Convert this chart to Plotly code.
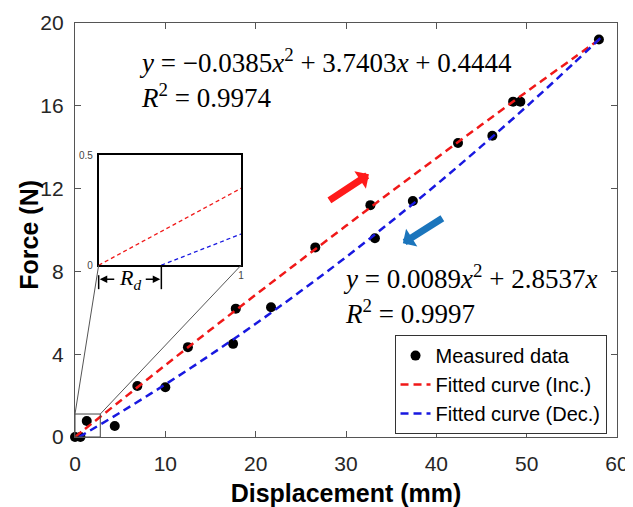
import plotly.graph_objects as go

# ---------------- data ----------------
meas_x = [0, 0.6, 1.3, 4.4, 6.9, 10.0, 12.5, 17.5, 17.8, 21.7, 26.6, 32.7, 33.2, 37.4, 42.4, 46.2, 48.5, 49.3, 58.0]
meas_y = [0, 0, 0.77, 0.53, 2.46, 2.4, 4.34, 4.5, 6.2, 6.27, 9.16, 11.2, 9.6, 11.4, 14.2, 14.55, 16.2, 16.2, 19.2]

inc_x = [0, 1, 5, 10, 15, 20, 25, 30, 35, 40, 45, 50, 55, 58.2]
inc_y = [0, 0.35, 1.74, 3.47, 5.18, 6.87, 8.54, 10.20, 11.85, 13.47, 15.08, 16.68, 18.25, 19.25]

dec_x = [0.44, 1, 5, 10, 15, 20, 25, 30, 35, 40, 45, 50, 55, 58.2]
dec_y = [0, 0.142, 1.18, 2.54, 3.97, 5.47, 7.05, 8.69, 10.41, 12.19, 14.05, 15.97, 17.97, 19.29]

x_ticks = [0, 10, 20, 30, 40, 50, 60]
y_ticks = [0, 4, 8, 12, 16, 20]

RED = "#f01818"
BLUE = "#1818e0"
ARROW_RED = "#ff1a1a"
ARROW_BLUE = "#1b75bc"
AXC = "#555555"
TXT = "#262626"

# ---------------- geometry (screen pixels of the 633x507 window) ----------------
SCR_W, SCR_H = 633, 507
OFF = 8                      # the page body has an 8px margin
W, H = SCR_W - OFF, SCR_H - OFF
AX_L, AX_R, AX_T, AX_B = 74.6, 617.5, 22.5, 437.0   # plot area in screen pixels
PW, PH = AX_R - AX_L, AX_B - AX_T


def px(xp):
    return (xp - AX_L) / PW


def py(yp):
    return (AX_B - yp) / PH


inset_x = [px(98.3), px(241)]
inset_y = [py(265), py(155)]

fig = go.Figure()

fig.add_trace(go.Scatter(x=meas_x, y=meas_y, mode="markers", name="Measured data",
                         marker=dict(color="black", size=10), cliponaxis=False))
fig.add_trace(go.Scatter(x=inc_x, y=inc_y, mode="lines", name="Fitted curve (Inc.)",
                         line=dict(color=RED, width=2.5, dash="8px,5px", shape="spline")))
fig.add_trace(go.Scatter(x=dec_x, y=dec_y, mode="lines", name="Fitted curve (Dec.)",
                         line=dict(color=BLUE, width=2.5, dash="8px,5px", shape="spline")))

# inset (zoom near the origin)
fig.add_trace(go.Scatter(x=inc_x, y=inc_y, mode="lines", xaxis="x2", yaxis="y2", showlegend=False,
                         line=dict(color=RED, width=1.3, dash="4px,3px")))
fig.add_trace(go.Scatter(x=dec_x, y=dec_y, mode="lines", xaxis="x2", yaxis="y2", showlegend=False,
                         line=dict(color=BLUE, width=1.3, dash="4px,3px")))

shapes = []
# small zoom box near the origin
zx0, zx1, zy0, zy1 = 0, 2.8, 0, 1.11
shapes.append(dict(type="rect", xref="x", yref="y", x0=zx0, x1=zx1, y0=zy0, y1=zy1,
                   line=dict(color="#444", width=1)))
# connector lines
for (sx, ix) in [(zx0, inset_x[0]), (zx1, inset_x[1])]:
    shapes.append(dict(type="line", xref="paper", yref="paper",
                       x0=sx / 60, y0=zy1 / 20, x1=ix, y1=inset_y[0],
                       line=dict(color="#555", width=1)))
# R_d bars
rd_x1 = inset_x[0] + 0.44 * (inset_x[1] - inset_x[0])
shapes.append(dict(type="line", xref="paper", yref="paper", x0=inset_x[0], x1=inset_x[0],
                   y0=py(275), y1=py(289), line=dict(color="black", width=1.5)))
shapes.append(dict(type="line", xref="paper", yref="paper", x0=rd_x1, x1=rd_x1,
                   y0=py(266), y1=py(289), line=dict(color="black", width=1.5)))

annotations = []
EQF = dict(family="Liberation Serif", size=27, color="black")
annotations += [
    dict(xref="paper", yref="paper", x=px(137), y=py(78), xanchor="left", yanchor="middle", align="left",
         text="<i>y</i> = −0.0385<i>x</i><sup>2</sup> + 3.7403<i>x</i> + 0.4444<br><i>R</i><sup>2</sup> = 0.9974",
         showarrow=False, font=EQF),
    dict(xref="paper", yref="paper", x=px(341), y=py(294), xanchor="left", yanchor="middle", align="left",
         text="<i>y</i> = 0.0089<i>x</i><sup>2</sup> + 2.8537<i>x</i><br><i>R</i><sup>2</sup> = 0.9997",
         showarrow=False, font=EQF),
]
# direction arrows
annotations += [
    dict(xref="paper", yref="paper", x=px(369), y=py(174), ax=328 - 369, ay=201 - 174,
         showarrow=True, arrowhead=1, arrowsize=0.5, arrowwidth=7, arrowcolor=ARROW_RED, text=""),
    dict(xref="paper", yref="paper", x=px(403), y=py(243), ax=444 - 403, ay=217 - 243,
         showarrow=True, arrowhead=1, arrowsize=0.5, arrowwidth=7, arrowcolor=ARROW_BLUE, text=""),
]
# R_d label with arrows
rd_y = py(279)
annotations += [
    dict(xref="paper", yref="paper", x=(inset_x[0] + rd_x1) / 2, y=rd_y, text="<i>R</i><sub><i>d</i></sub>",
         showarrow=False, font=dict(family="Liberation Serif", size=22, color="black"),
         xanchor="center", yanchor="middle"),
    dict(xref="paper", yref="paper", x=inset_x[0] + 0.002, y=rd_y, ax=16, ay=0, text="",
         showarrow=True, arrowhead=2, arrowsize=1, arrowwidth=1.5, arrowcolor="black"),
    dict(xref="paper", yref="paper", x=rd_x1 - 0.002, y=rd_y, ax=-16, ay=0, text="",
         showarrow=True, arrowhead=2, arrowsize=1, arrowwidth=1.5, arrowcolor="black"),
]
# y-axis title
annotations.append(dict(xref="paper", yref="paper", x=px(29), y=py(234), text="<b>Force (N)</b>",
                        textangle=-90, showarrow=False, xanchor="center", yanchor="middle",
                        font=dict(family="Liberation Sans", size=25, color="black")))

fig.update_layout(
    width=W, height=H,
    margin=dict(l=AX_L - OFF, r=SCR_W - AX_R, t=AX_T - OFF, b=SCR_H - AX_B),
    paper_bgcolor="white", plot_bgcolor="white",
    font=dict(family="Liberation Sans", color=TXT),
    shapes=shapes, annotations=annotations,
    xaxis=dict(range=[0, 60], tickvals=x_ticks, ticks="inside", ticklen=6, tickcolor=AXC,
               showline=True, linecolor=AXC, linewidth=1.3, mirror="ticks", automargin=False,
               showgrid=False, zeroline=False, tickfont=dict(size=21, color=TXT),
               ticklabelstandoff=8,
               title=dict(text="<b>Displacement (mm)</b>", font=dict(size=25, color="black"), standoff=12)),
    yaxis=dict(range=[0, 20], tickvals=y_ticks, ticks="inside", ticklen=6, tickcolor=AXC,
               showline=True, linecolor=AXC, linewidth=1.3, mirror="ticks", automargin=False,
               showgrid=False, zeroline=False, tickfont=dict(size=21, color=TXT),
               ticklabelstandoff=6),
    xaxis2=dict(domain=inset_x, anchor="y2", range=[0, 1], tickvals=[1], ticks="", automargin=False,
                showline=True, linecolor="black", linewidth=1.5, mirror=True,
                showgrid=False, zeroline=False, tickfont=dict(size=10, color="#444"),
                ticklabelstandoff=0),
    yaxis2=dict(domain=inset_y, anchor="x2", range=[0, 0.5], tickvals=[0, 0.5], ticktext=["0", "0.5"],
                ticks="", showline=True, linecolor="black", linewidth=1.5, mirror=True, automargin=False,
                showgrid=False, zeroline=False, tickfont=dict(size=10, color="#444"),
                ticklabelstandoff=2),
    legend=dict(x=px(607), y=py(335), xanchor="right", yanchor="top",
                bgcolor="white", bordercolor="#333", borderwidth=1,
                font=dict(size=20, color="black"), tracegroupgap=0),
    showlegend=True,
)

fig.write_html("out.html")
